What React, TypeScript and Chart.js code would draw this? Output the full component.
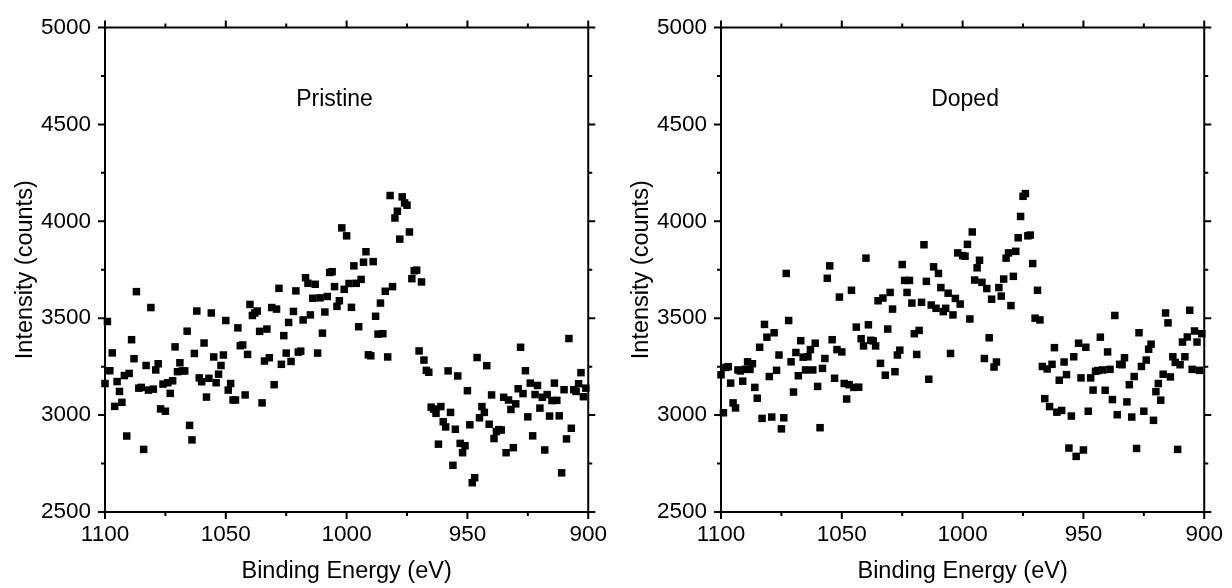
import React, { useEffect, useRef } from 'react';
import { Chart, registerables } from 'chart.js';

Chart.register(...registerables);

// Binding energy grid (eV): first sample and spacing between samples
const energyStart = 1100;
const energyStep = 1;

// Intensity (counts), 1100 eV -> 901 eV
const pristineCounts = [
  3163, 3483, 3229, 3321, 3045, 3173, 3122, 3066, 3204, 2892,
  3215, 3389, 3291, 3637, 3139, 3143, 2823, 3256, 3129, 3555,
  3134, 3233, 3265, 3032, 3160, 3020, 3167, 3112, 3177, 3352,
  3224, 3270, 3228, 3228, 3433, 2947, 2872, 3318, 3537, 3192,
  3172, 3372, 3093, 3190, 3527, 3300, 3167, 3211, 3256, 3310,
  3488, 3129, 3163, 3078, 3078, 3450, 3358, 3362, 3104, 3313,
  3571, 3514, 3527, 3537, 3432, 3063, 3279, 3444, 3296, 3555,
  3157, 3547, 3654, 3262, 3410, 3320, 3478, 3277, 3535, 3641,
  3325, 3330, 3491, 3709, 3680, 3517, 3603, 3675, 3320, 3605,
  3423, 3532, 3612, 3736, 3740, 3663, 3561, 3590, 3966, 3649, 3925,
  3679, 3556, 3770, 3680, 3456, 3700, 3789, 3843, 3311,
  3306, 3792, 3510, 3418, 3578, 3420, 3639, 3300, 4133, 3663,
  4017, 4052, 3908, 4126, 4095, 4083, 3945, 3704, 3745, 3748,
  3331, 3687, 3284, 3231, 3221, 3041, 3031, 3009, 2850, 3044,
  2966, 2939, 3228, 3014, 2741, 2927, 3202, 2854, 2806, 2842,
  3126, 2950, 2651, 2677, 3297, 2986, 3044, 3014, 3255, 2953,
  3104, 2879, 2915, 2925, 2923, 3092, 2806, 3078, 3029, 2832,
  3058, 3136, 3350, 3111, 3229, 2991, 3165, 2893, 3106, 3153,
  3036, 3092, 2820, 3106, 2995, 3075, 3165, 3076, 2996, 2702,
  3131, 2877, 3395, 2932, 3131, 3122, 3162, 3219, 3095, 3139,
];

const dopedCounts = [
  3208, 3012, 3246, 3250, 3165, 3063, 3037, 3233, 3228, 3175,
  3236, 3275, 3236, 3265, 3143, 3087, 3350, 2983, 3468, 3402,
  3199, 2990, 3425, 3231, 3310, 2929, 2986, 3731, 3488, 3275,
  3119, 3323, 3203, 3384, 3299, 3233, 3301, 3338, 3233, 3371,
  3148, 2935, 3241, 3292, 3706, 3770, 3389, 3190, 3338, 3609,
  3326, 3163, 3083, 3157, 3644, 3143, 3454, 3144, 3394, 3357,
  3810, 3466, 3386, 3383, 3357, 3590, 3267, 3604, 3206, 3444,
  3633, 3547, 3224, 3310, 3335, 3777, 3695, 3633, 3695, 3578,
  3420, 3313, 3437, 3582, 3879, 3690, 3185,
  3568, 3765, 3551, 3731, 3658, 3534, 3551, 3629, 3318, 3517, 3602, 3837, 3573,
  3823, 3820, 3881, 3496, 3945, 3697, 3760, 3799, 3685, 3292,
  3653, 3399, 3598, 3248, 3274, 3658, 3614, 3702, 3810, 3837,
  3565, 3716, 3845, 3915, 4025, 4129, 4143, 3925, 3929, 3782,
  3500, 3644, 3491, 3251, 3085, 3238, 3044, 3262, 3348, 3015,
  3180, 3024, 3274, 3209, 2830, 2995, 3301, 2787, 3371, 3192,
  2820, 3350, 3020, 3192, 3129, 3226, 3230, 3402, 3233, 3128,
  3326, 3236, 3080, 3514, 3002, 3262, 3260, 3296, 3068, 3157,
  2990, 3199, 2828, 3425, 3251, 3020, 3284, 3340, 3366, 2973,
  3121, 3163, 3077, 3211, 3527, 3476, 3197, 3301, 3272, 2823,
  3260, 3377, 3301, 3403, 3541, 3236, 3434, 3377, 3231, 3420,
];

// Axis ranges and ticks
const xMin = 900;
const xMax = 1100;
const yMin = 2500;
const yMax = 5000;
const xMajorTicks = [1100, 1050, 1000, 950, 900];
const xMinorTicks = [1075, 1025, 975, 925];
const yMajorTicks = [2500, 3000, 3500, 4000, 4500, 5000];
const yMinorTicks = [2750, 3250, 3750, 4250, 4750];

// Panel labels and their anchor (energy, intensity)
const panelNames = ['Pristine', 'Doped'];
const panelLabelEnergies = [1005, 999];
const panelLabelIntensity = 4595;

const FONT = "'Liberation Sans', Arial, Helvetica, sans-serif";

const framePlugin = {
  id: 'frameTicks',
  afterDatasetsDraw(chart: any) {
    const { ctx, chartArea: a, scales } = chart;
    const x = scales.x;
    const y = scales.y;
    ctx.save();
    ctx.strokeStyle = '#000';
    ctx.lineWidth = 2;
    ctx.lineCap = 'butt';
    ctx.strokeRect(a.left, a.top, a.right - a.left, a.bottom - a.top);
    const major = 7;
    const minor = 4;
    ctx.beginPath();
    const xt = (v: number, len: number) => {
      const px = x.getPixelForValue(v);
      ctx.moveTo(px, a.bottom);
      ctx.lineTo(px, a.bottom + len);
      ctx.moveTo(px, a.top);
      ctx.lineTo(px, a.top - len);
    };
    const yt = (v: number, len: number) => {
      const py = y.getPixelForValue(v);
      ctx.moveTo(a.left, py);
      ctx.lineTo(a.left - len, py);
      ctx.moveTo(a.right, py);
      ctx.lineTo(a.right + len, py);
    };
    xMajorTicks.forEach((v) => xt(v, major));
    xMinorTicks.forEach((v) => xt(v, minor));
    yMajorTicks.forEach((v) => yt(v, major));
    yMinorTicks.forEach((v) => yt(v, minor));
    ctx.stroke();
    ctx.restore();
  },
};

const labelPlugin = {
  id: 'panelLabel',
  afterDraw(chart: any, _args: any, opts: any) {
    if (!opts || !opts.text) return;
    const { ctx, scales } = chart;
    const px = scales.x.getPixelForValue(opts.energy);
    const py = scales.y.getPixelForValue(opts.intensity);
    ctx.save();
    ctx.fillStyle = '#000';
    ctx.font = `23px ${FONT}`;
    ctx.textAlign = 'center';
    ctx.textBaseline = 'alphabetic';
    ctx.fillText(opts.text, px, py);
    ctx.restore();
  },
};

const plainNumber = (v: any) => String(v);

function Panel({ counts, name, labelEnergy, rightPad }: { counts: number[]; name: string; labelEnergy: number; rightPad: number }) {
  const ref = useRef<HTMLCanvasElement | null>(null);
  useEffect(() => {
    if (!ref.current) return;
    const points = counts.map((c, i) => ({ x: energyStart - i * energyStep, y: c }));
    const chart = new Chart(ref.current, {
      type: 'scatter',
      data: {
        datasets: [
          {
            data: points,
            pointStyle: 'rect',
            pointRadius: 5.3,
            pointHoverRadius: 5.3,
            backgroundColor: '#000',
            borderColor: '#000',
            borderWidth: 0,
            showLine: false,
            clip: false,
          } as any,
        ],
      },
      options: {
        animation: false,
        responsive: false,
        maintainAspectRatio: false,
        devicePixelRatio: 1,
        events: [],
        layout: { padding: { left: 0, right: rightPad, top: 23.3, bottom: 0 } },
        plugins: {
          legend: { display: false },
          tooltip: { enabled: false },
          panelLabel: { text: name, energy: labelEnergy, intensity: panelLabelIntensity },
        } as any,
        scales: {
          x: {
            type: 'linear',
            reverse: true,
            min: xMin,
            max: xMax,
            afterFit: (s: any) => {
              s.height = 76;
            },
            grid: { display: false, drawTicks: false },
            border: { display: false },
            ticks: {
              stepSize: 50,
              padding: 9,
              color: '#000',
              maxRotation: 0,
              autoSkip: false,
              callback: plainNumber,
              font: { family: FONT, size: 22.5 },
            },
            title: {
              display: true,
              text: 'Binding Energy (eV)',
              color: '#000',
              font: { family: FONT, size: 23.5 },
              padding: { top: 0, bottom: 2 },
            },
          },
          y: {
            type: 'linear',
            min: yMin,
            max: yMax,
            afterFit: (s: any) => {
              s.width = 105;
            },
            grid: { display: false, drawTicks: false },
            border: { display: false },
            ticks: {
              stepSize: 500,
              padding: 14,
              color: '#000',
              autoSkip: false,
              callback: plainNumber,
              font: { family: FONT, size: 22.5 },
            },
            title: {
              display: true,
              text: 'Intensity (counts)',
              color: '#000',
              font: { family: FONT, size: 23.5 },
              padding: { top: 11, bottom: 0 },
            },
          },
        },
      },
      plugins: [framePlugin, labelPlugin],
    });
    return () => chart.destroy();
  }, [counts, name, labelEnergy, rightPad]);
  return <canvas ref={ref} width={616} height={588} style={{ display: 'block', width: 616, height: 588 }} />;
}

export default function App() {
  return (
    <div style={{ position: 'absolute', left: 0, top: 0, width: 1232, height: 588, display: 'flex', background: '#fff' }}>
      <Panel counts={pristineCounts} name={panelNames[0]} labelEnergy={panelLabelEnergies[0]} rightPad={22.6} />
      <Panel counts={dopedCounts} name={panelNames[1]} labelEnergy={panelLabelEnergies[1]} rightPad={21.4} />
    </div>
  );
}
